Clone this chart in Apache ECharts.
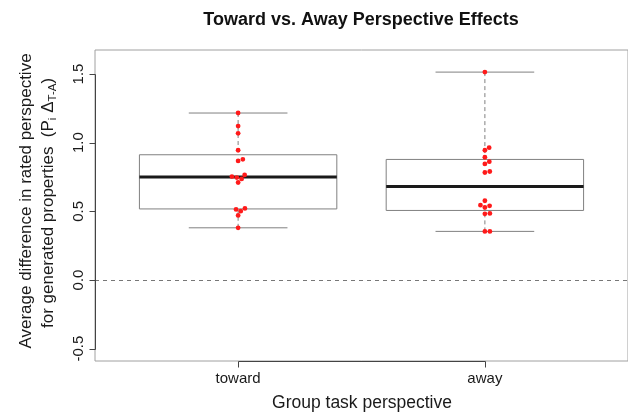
<!DOCTYPE html>
<html>
<head>
<meta charset="utf-8">
<script src="https://cdn.jsdelivr.net/npm/echarts@6/dist/echarts.min.js"></script>
<style>
  html, body { margin: 0; padding: 0; background: #fff; }
  #chart { width: 628px; height: 413px; }
</style>
</head>
<body>
<div id="chart"></div>
<script>
// Group labels and per-participant values (P_i Δ_T-A)
const groups = ['toward', 'away'];
const towardValues = [0.380, 0.470, 0.501, 0.514, 0.521, 0.710, 0.736, 0.746,
                      0.753, 0.765, 0.867, 0.879, 0.945, 1.068, 1.121, 1.216];
const awayValues   = [0.354, 0.354, 0.482, 0.485, 0.528, 0.540, 0.545, 0.577,
                      0.783, 0.790, 0.845, 0.862, 0.894, 0.945, 0.964, 1.514];
const yTicks = [-0.5, 0, 0.5, 1, 1.5];
const xTicks = [1, 2];
const referenceLine = 0;

const FONT = 'Liberation Sans, Arial, Helvetica, sans-serif';

// Tukey five-number summary (min, lower hinge, median, upper hinge, max)
function fivenum(values) {
  const x = values.slice().sort((a, b) => a - b);
  const n = x.length;
  const n4 = Math.floor((n + 3) / 2) / 2;
  const d = [1, n4, (n + 1) / 2, n + 1 - n4, n];
  return d.map(v => 0.5 * (x[Math.floor(v) - 1] + x[Math.ceil(v) - 1]));
}

const allGroups = [towardValues, awayValues];
const boxData = allGroups.map((vals, i) => [i + 1].concat(fivenum(vals)));
const pointData = [];
allGroups.forEach((vals, i) => vals.forEach(v => pointData.push([i + 1, v])));

// Beeswarm placement in pixel space: ascending order, nearest free slot to centre
const DOT_SPACING = 5;
let swarmCache = null;
function computeSwarm(api) {
  const offsets = new Array(pointData.length).fill(0);
  const ys = pointData.map(p => api.coord(p)[1]);
  xTicks.forEach(g => {
    const idx = pointData.map((p, i) => i).filter(i => pointData[i][0] === g);
    idx.sort((a, b) => pointData[a][1] - pointData[b][1] || a - b);
    const placed = [];
    idx.forEach(i => {
      const py = ys[i];
      const cands = [0];
      placed.forEach(q => {
        const dy = Math.abs(py - q.y);
        if (dy < DOT_SPACING) {
          const dx = Math.sqrt(DOT_SPACING * DOT_SPACING - dy * dy);
          cands.push(q.x + dx, q.x - dx);
        }
      });
      const ok = cands.filter(cx => placed.every(q =>
        Math.hypot(cx - q.x, py - q.y) >= DOT_SPACING - 1e-6));
      ok.sort((a, b) => Math.abs(a) - Math.abs(b) || b - a);
      const x = ok[0];
      placed.push({ x: x, y: py });
      offsets[i] = x;
    });
  });
  return offsets;
}

const chart = echarts.init(document.getElementById('chart'), null, { renderer: 'canvas' });

const option = {
  animation: false,
  backgroundColor: '#ffffff',
  textStyle: { fontFamily: FONT },
  grid: {
    left: 95, right: 0, top: 50, bottom: 52,
    show: true, borderColor: '#a0a0a0', borderWidth: 1, backgroundColor: 'transparent'
  },
  xAxis: {
    type: 'value', min: 0.42, max: 2.58,
    splitLine: { show: false },
    axisLine: { show: false, onZero: false },
    axisTick: { show: false },
    axisLabel: {
      customValues: xTicks, margin: 10, fontSize: 15, color: '#1a1a1a', fontFamily: FONT,
      formatter: v => groups[Math.round(v) - 1] || ''
    }
  },
  yAxis: {
    type: 'value', min: -0.59, max: 1.675,
    splitLine: { show: false },
    axisLine: { show: false, onZero: false },
    axisTick: { show: false },
    axisLabel: {
      customValues: yTicks, rotate: 90, margin: 9, fontSize: 15, color: '#1a1a1a', fontFamily: FONT,
      formatter: v => v.toFixed(1)
    }
  },
  graphic: [
    {
      type: 'text', x: 361, y: 20,
      style: {
        text: 'Toward vs. Away Perspective Effects', fontSize: 18, fontWeight: 'bold',
        fontFamily: FONT, fill: '#111', align: 'center', verticalAlign: 'middle'
      }
    },
    {
      type: 'text', x: 362, y: 403,
      style: {
        text: 'Group task perspective', fontSize: 17.5, fontFamily: FONT, fill: '#1a1a1a',
        align: 'center', verticalAlign: 'middle'
      }
    },
    {
      type: 'text', x: 26, y: 201, rotation: Math.PI / 2,
      style: {
        text: 'Average difference in rated perspective', fontSize: 17, fontFamily: FONT,
        fill: '#1a1a1a', align: 'center', verticalAlign: 'middle'
      }
    },
    {
      type: 'text', x: 48, y: 203, rotation: Math.PI / 2,
      style: {
        text: '{n|for generated properties  (P}{s|i}{n| Δ}{s|T-A}{n|)}',
        fontFamily: FONT, fill: '#1a1a1a', align: 'center', verticalAlign: 'middle',
        rich: {
          n: { fontSize: 17, fontFamily: FONT, fill: '#1a1a1a', lineHeight: 22, verticalAlign: 'middle' },
          s: { fontSize: 11.5, fontFamily: FONT, fill: '#1a1a1a', lineHeight: 22, verticalAlign: 'bottom' }
        }
      }
    }
  ],
  series: [
    {
      // axis lines and ticks, drawn between the first and last tick as in base graphics
      type: 'custom', name: 'axes', clip: false, silent: true, z: 10,
      data: [[0]],
      renderItem: function (params, api) {
        const cs = params.coordSys;
        const left = Math.round(cs.x) + 0.5;
        const bottom = Math.round(cs.y + cs.height) + 0.5;
        const st = { stroke: '#444', lineWidth: 1 };
        const tickLen = 6;
        const children = [];
        const yPix = yTicks.map(v => Math.round(api.coord([1, v])[1]) + 0.5);
        children.push({ type: 'line', shape: { x1: left, y1: yPix[0], x2: left, y2: yPix[yPix.length - 1] }, style: st });
        yPix.forEach(y => children.push({ type: 'line', shape: { x1: left - tickLen, y1: y, x2: left, y2: y }, style: st }));
        const xPix = xTicks.map(v => Math.round(api.coord([v, 0])[0]) + 0.5);
        children.push({ type: 'line', shape: { x1: xPix[0], y1: bottom, x2: xPix[xPix.length - 1], y2: bottom }, style: st });
        xPix.forEach(x => children.push({ type: 'line', shape: { x1: x, y1: bottom, x2: x, y2: bottom + tickLen }, style: st }));
        return { type: 'group', children: children };
      }
    },
    {
      type: 'custom', name: 'boxes', silent: true, z: 4,
      data: boxData,
      markLine: {
        silent: true, symbol: 'none', animation: false,
        label: { show: false },
        lineStyle: { color: '#777', width: 1, type: [4, 4] },
        data: [{ yAxis: referenceLine }]
      },
      renderItem: function (params, api) {
        const g = api.value(0);
        const mn = api.value(1), q1 = api.value(2), md = api.value(3), q3 = api.value(4), mx = api.value(5);
        const half = 0.4, cap = 0.2;
        const pTL = api.coord([g - half, q3]);
        const pBR = api.coord([g + half, q1]);
        const pMd = api.coord([g - half, md]);
        const pMdR = api.coord([g + half, md]);
        const pMin = api.coord([g, mn]);
        const pMax = api.coord([g, mx]);
        const capL = api.coord([g - cap, mn])[0];
        const capR = api.coord([g + cap, mn])[0];
        const grey = '#808080';
        const dash = { stroke: grey, lineWidth: 1, lineDash: [4, 3] };
        const solid = { stroke: grey, lineWidth: 1 };
        return {
          type: 'group',
          children: [
            { type: 'line', shape: { x1: pMax[0], y1: pMax[1], x2: pMax[0], y2: pTL[1] }, style: dash },
            { type: 'line', shape: { x1: pMin[0], y1: pMin[1], x2: pMin[0], y2: pBR[1] }, style: dash },
            { type: 'line', shape: { x1: capL, y1: pMax[1], x2: capR, y2: pMax[1] }, style: solid },
            { type: 'line', shape: { x1: capL, y1: pMin[1], x2: capR, y2: pMin[1] }, style: solid },
            {
              type: 'rect',
              shape: { x: pTL[0], y: pTL[1], width: pBR[0] - pTL[0], height: pBR[1] - pTL[1] },
              style: { fill: 'none', stroke: grey, lineWidth: 1 }
            },
            { type: 'line', shape: { x1: pMd[0], y1: pMd[1], x2: pMdR[0], y2: pMd[1] },
              style: { stroke: '#1a1a1a', lineWidth: 3 } }
          ]
        };
      }
    },
    {
      type: 'custom', name: 'participants', silent: true, z: 5,
      data: pointData,
      renderItem: function (params, api) {
        if (params.dataIndex === 0 || !swarmCache) swarmCache = computeSwarm(api);
        const p = api.coord([api.value(0), api.value(1)]);
        return {
          type: 'circle',
          shape: { cx: p[0] + swarmCache[params.dataIndex], cy: p[1], r: 2.4 },
          style: { fill: '#ff1a1a' }
        };
      }
    }
  ]
};

chart.setOption(option);
</script>
</body>
</html>
